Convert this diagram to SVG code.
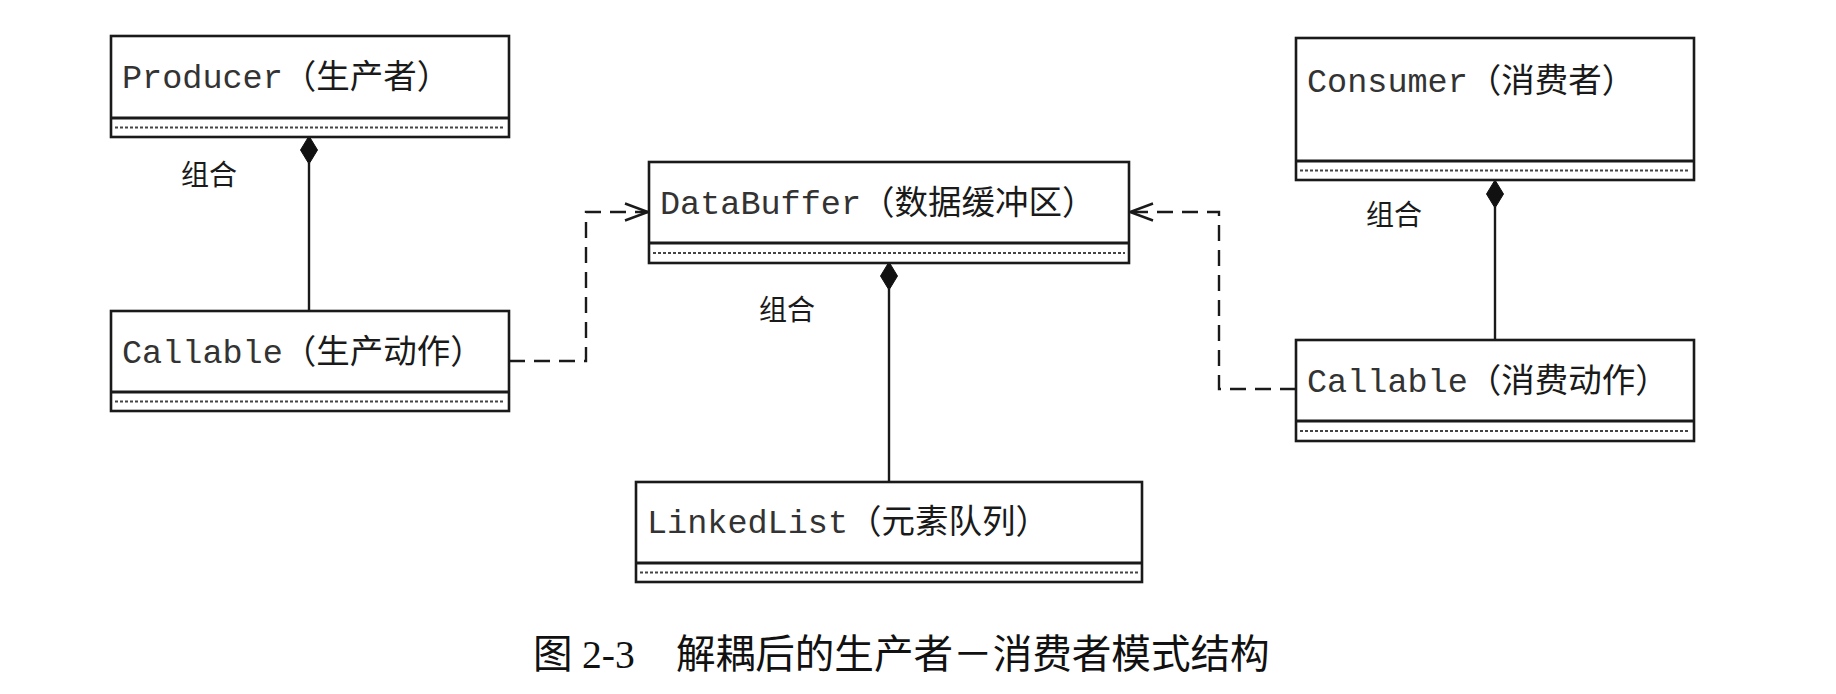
<svg xmlns="http://www.w3.org/2000/svg" width="1836" height="694" viewBox="0 0 1836 694">
  <style>
    .box { fill: #ffffff; stroke: #1a1a1a; stroke-width: 2.6; }
    .div { stroke: #1a1a1a; stroke-width: 3; }
    .dots { stroke: #444; stroke-width: 1.8; stroke-dasharray: 3 2; }
    .name { font-family: "Liberation Mono", "Noto Sans CJK SC", monospace; font-size: 33.5px; fill: #333; }
    .cjk { font-family: "Noto Sans CJK SC", sans-serif; fill: #1a1a1a; }
    .lbl { font-family: "Noto Sans CJK SC", sans-serif; font-size: 28px; fill: #1a1a1a; }
    .solid { stroke: #1a1a1a; stroke-width: 2.4; fill: none; }
    .dash { stroke: #1a1a1a; stroke-width: 2.4; fill: none; stroke-dasharray: 16 9; }
    .dia { fill: #111; stroke: #111; stroke-width: 1; }
    .cap { font-size: 39.6px; fill: #111; }
  </style>
  <defs>
    <marker id="open" markerUnits="userSpaceOnUse" markerWidth="30" markerHeight="24" refX="24" refY="10" orient="auto" viewBox="0 0 30 20">
      <polyline points="1,1.5 24,10 1,18.5" fill="none" stroke="#1a1a1a" stroke-width="2.4"/>
    </marker>
  </defs>
  <rect width="1836" height="694" fill="#ffffff"/>

  <g id="connectors">
    <path class="solid" d="M309,163 V311"/>
    <polygon class="dia" points="309,136 317.5,150 309,164 300.5,150"/>
    <path class="solid" d="M889,289 V482"/>
    <polygon class="dia" points="889,262 897.5,276 889,290 880.5,276"/>
    <path class="solid" d="M1495,207 V340"/>
    <polygon class="dia" points="1495,180 1503.5,194 1495,208 1486.5,194"/>
    <path class="dash" d="M509,361 H586 V212 H648" marker-end="url(#open)"/>
    <path class="dash" d="M1296,389 H1219 V212 H1130" marker-end="url(#open)"/>
    <text class="lbl" x="181" y="185">组合</text>
    <text class="lbl" x="759" y="320">组合</text>
    <text class="lbl" x="1366" y="225">组合</text>
  </g>

  <g id="producer">
    <rect class="box" x="111" y="36" width="398" height="101"/>
    <line class="div" x1="111" y1="118" x2="509" y2="118"/>
    <line class="dots" x1="115" y1="127.5" x2="505" y2="127.5"/>
    <text class="name" x="122" y="88">Producer<tspan class="cjk">（生产者）</tspan></text>
  </g>

  <g id="callable-producer">
    <rect class="box" x="111" y="311" width="398" height="100"/>
    <line class="div" x1="111" y1="392" x2="509" y2="392"/>
    <line class="dots" x1="115" y1="401.5" x2="505" y2="401.5"/>
    <text class="name" x="122" y="363">Callable<tspan class="cjk">（生产动作）</tspan></text>
  </g>

  <g id="databuffer">
    <rect class="box" x="649" y="162" width="480" height="101"/>
    <line class="div" x1="649" y1="243" x2="1129" y2="243"/>
    <line class="dots" x1="653" y1="253" x2="1125" y2="253"/>
    <text class="name" x="660" y="214">DataBuffer<tspan class="cjk">（数据缓冲区）</tspan></text>
  </g>

  <g id="linkedlist">
    <rect class="box" x="636" y="482" width="506" height="100"/>
    <line class="div" x1="636" y1="563" x2="1142" y2="563"/>
    <line class="dots" x1="640" y1="572.5" x2="1138" y2="572.5"/>
    <text class="name" x="647" y="533">LinkedList<tspan class="cjk">（元素队列）</tspan></text>
  </g>

  <g id="consumer">
    <rect class="box" x="1296" y="38" width="398" height="142"/>
    <line class="div" x1="1296" y1="161" x2="1694" y2="161"/>
    <line class="dots" x1="1300" y1="170.5" x2="1690" y2="170.5"/>
    <text class="name" x="1307" y="92">Consumer<tspan class="cjk">（消费者）</tspan></text>
  </g>

  <g id="callable-consumer">
    <rect class="box" x="1296" y="340" width="398" height="101"/>
    <line class="div" x1="1296" y1="421" x2="1694" y2="421"/>
    <line class="dots" x1="1300" y1="431" x2="1690" y2="431"/>
    <text class="name" x="1307" y="392">Callable<tspan class="cjk">（消费动作）</tspan></text>
  </g>

  <g id="caption">
    <text class="cap" y="668"><tspan x="533" font-family="Noto Sans CJK SC, sans-serif">图</tspan><tspan x="582" font-family="Liberation Serif, serif">2-3</tspan><tspan x="676" font-family="Noto Sans CJK SC, sans-serif">解耦后的生产者－消费者模式结构</tspan></text>
  </g>
</svg>
